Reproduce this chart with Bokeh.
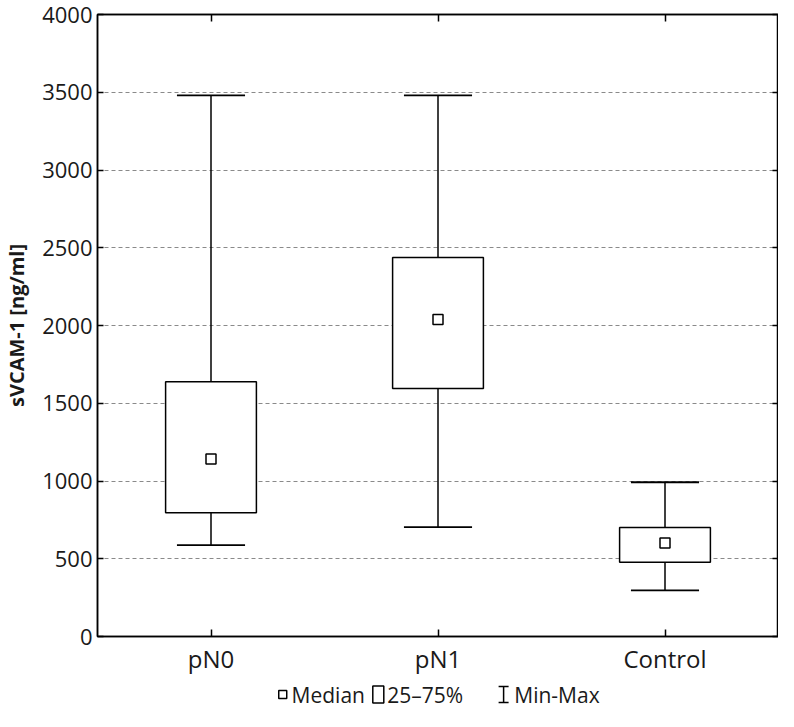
from bokeh.plotting import figure
from bokeh.layouts import column
from bokeh.models import (ColumnDataSource, LinearAxis, FixedTicker,
                          Range1d, CustomJSTickFormatter)
from bokeh.core.properties import value
from bokeh.embed import file_html
from bokeh.resources import INLINE

categories = ["pN0", "pN1", "Control"]
xpos = [1, 2, 3]
mins = [587, 703, 296]
q1 = [796, 1595, 477]
medians = [1141, 2038, 601]
q3 = [1639, 2437, 701]
maxs = [3480, 3480, 992]
y_ticks = [0, 500, 1000, 1500, 2000, 2500, 3000, 3500, 4000]
legend_labels = ["Median", "25\u201375%", "Min-Max"]

FONT = "Open Sans"
TXT = "#1a1a1a"

src = ColumnDataSource(dict(x=xpos, mins=mins, q1=q1, med=medians, q3=q3, maxs=maxs))

p = figure(width=778, height=677, output_backend="svg", toolbar_location=None,
           x_range=Range1d(0.5, 3.5), y_range=Range1d(0, 4000),
           min_border_left=93, min_border_right=0, min_border_top=14,
           min_border_bottom=40)
p.xaxis.visible = False
p.yaxis.visible = False
p.outline_line_color = "black"
p.outline_line_width = 1.5
p.background_fill_color = "white"
p.border_fill_color = "white"

# grid
p.xgrid.grid_line_color = None
p.ygrid.ticker = FixedTicker(ticks=y_ticks)
p.ygrid.grid_line_color = "#8a8a8a"
p.ygrid.grid_line_dash = "4 3"
p.ygrid.grid_line_width = 1.2

# whiskers
p.segment(x0="x", y0="mins", x1="x", y1="q1", source=src, line_color="black", line_width=1.5)
p.segment(x0="x", y0="q3", x1="x", y1="maxs", source=src, line_color="black", line_width=1.5)
p.segment(x0=[x - 0.15 for x in xpos], y0=mins, x1=[x + 0.15 for x in xpos], y1=mins,
          line_color="black", line_width=1.8)
p.segment(x0=[x - 0.15 for x in xpos], y0=maxs, x1=[x + 0.15 for x in xpos], y1=maxs,
          line_color="black", line_width=1.8)
# boxes
p.quad(left=[x - 0.2 for x in xpos], right=[x + 0.2 for x in xpos], bottom=q1, top=q3,
       fill_color="white", line_color="black", line_width=1.5)
# medians
p.scatter(x="x", y="med", source=src, marker="square", size=10,
          fill_color="white", line_color="black", line_width=1.5)

# axes
left = LinearAxis(ticker=FixedTicker(ticks=y_ticks), axis_label="sVCAM-1 [ng/ml]")
left.major_tick_in = 6
left.major_tick_out = 0
left.minor_tick_line_color = None
left.axis_line_width = 1.5
left.major_tick_line_width = 1.5
left.major_label_text_font = FONT
left.major_label_text_font_size = "22px"
left.major_label_text_color = TXT
left.major_label_standoff = 5
left.axis_label_text_font = FONT
left.axis_label_text_font_style = "bold"
left.axis_label_text_font_size = "20px"
left.axis_label_text_color = TXT
left.axis_label_standoff = 9
p.add_layout(left, "left")

right = LinearAxis(ticker=FixedTicker(ticks=y_ticks))
right.major_tick_in = 6
right.major_tick_out = 0
right.minor_tick_line_color = None
right.major_label_text_font_size = "0px"
right.major_label_text_color = None
right.major_label_standoff = 0
right.axis_line_width = 1.5
right.major_tick_line_width = 1.5
p.add_layout(right, "right")

labels_js = "const c = %s; const i = Math.round(tick) - 1; return (i >= 0 && i < c.length) ? c[i] : '';" % str(categories)
bottom = LinearAxis(ticker=FixedTicker(ticks=xpos),
                    formatter=CustomJSTickFormatter(code=labels_js))
bottom.major_tick_in = 7
bottom.major_tick_out = 0
bottom.minor_tick_line_color = None
bottom.axis_line_width = 1.5
bottom.major_tick_line_width = 1.5
bottom.major_label_text_font = FONT
bottom.major_label_text_font_size = "24px"
bottom.major_label_text_color = TXT
bottom.major_label_standoff = 5
p.add_layout(bottom, "below")

top = LinearAxis(ticker=FixedTicker(ticks=xpos))
top.major_tick_in = 7
top.major_tick_out = 0
top.minor_tick_line_color = None
top.major_label_text_font_size = "0px"
top.major_label_text_color = None
top.major_label_standoff = 0
top.axis_line_width = 1.5
top.major_tick_line_width = 1.5
p.add_layout(top, "above")

# legend strip, sharing the main x scale (frames are aligned in the column)
lg = figure(width=778, height=34, output_backend="svg", toolbar_location=None,
            x_range=p.x_range, y_range=Range1d(0, 34),
            min_border=0, outline_line_color=None)
lg.axis.visible = False
lg.grid.visible = False
lg.border_fill_color = "white"
cy = 17
# median symbol
lg.scatter(x=[1.316], y=[cy], marker="square", size=8, fill_color="white",
           line_color="black", line_width=1.5)
# box symbol
lg.rect(x=[1.737], y=[cy], width=11, width_units="screen", height=17,
        fill_color="white", line_color="black", line_width=1.5)
# min-max symbol (I-beam)
ib = 2.289
lg.segment(x0=[ib], y0=[cy - 8], x1=[ib], y1=[cy + 8], line_color="black", line_width=1.5)
lg.segment(x0=[ib - 0.022, ib - 0.022], y0=[cy - 8, cy + 8],
           x1=[ib + 0.022, ib + 0.022], y1=[cy - 8, cy + 8],
           line_color="black", line_width=1.5)
lg.text(x=[1.355, 1.776, 2.336], y=[cy, cy, cy], text=legend_labels,
        text_font=value(FONT), text_font_size="21px", text_color=TXT,
        text_baseline="middle", text_align="left")

layout = column(p, lg, spacing=0)
open("out.html", "w").write(file_html(layout, INLINE))
